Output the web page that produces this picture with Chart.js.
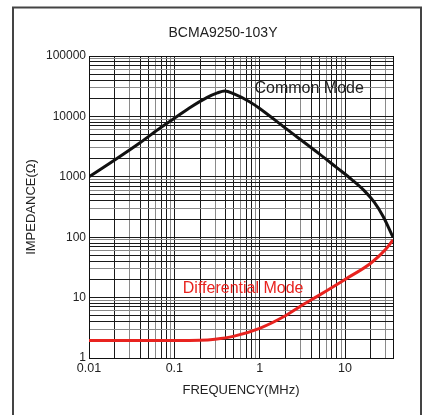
<!DOCTYPE html>
<html>
<head>
<meta charset="utf-8">
<script src="https://cdn.jsdelivr.net/npm/chart.js@4"></script>
<style>
  html, body { margin: 0; padding: 0; background: #fff; }
  #wrap { width: 425px; height: 415px; }
</style>
</head>
<body>
<div id="wrap"><canvas id="impedanceChart" width="425" height="415"></canvas></div>
<script>
const chartTitle = 'BCMA9250-103Y';

// common mode impedance
const commonFreq = [0.01, 0.02, 0.04, 0.07, 0.1, 0.15, 0.24, 0.32, 0.39, 0.5, 0.77, 1, 2, 5, 8, 12, 17, 22, 28, 36.5];
const commonImp = [1000, 1900, 3700, 6600, 9300, 13800, 20500, 24500, 26300, 23500, 17300, 13500, 6400, 2400, 1420, 900, 580, 380, 220, 100];

// differential mode impedance
const diffFreq = [0.01, 0.1, 0.2, 0.3, 0.49, 1, 2, 3, 5, 10, 20, 30, 36.5];
const diffImp = [1.95, 1.95, 1.97, 2.05, 2.28, 3.1, 5, 7.2, 11, 20, 37, 63, 90];

const xTickValues = [0.01, 0.1, 1, 10];
const xTickLabels = ['0.01', '0.1', '1', '10'];
const yTickValues = [1, 10, 100, 1000, 10000, 100000];
const yTickLabels = ['1', '10', '100', '1000', '10000', '100000'];

const seriesLabels = ['Common Mode', 'Differential Mode'];
const seriesColors = ['#111111', '#e8231f'];
const labelFreq = [3.8, 0.64];
const labelImp = [28400, 14];

const xMin = 0.01, xMax = 36.5;
const yMin = 1, yMax = 100000;

const FONT = '"Liberation Sans", Arial, sans-serif';

function logGrid(min, max) {
  const out = [];
  const e0 = Math.floor(Math.log10(min) + 1e-9);
  const e1 = Math.ceil(Math.log10(max) - 1e-9);
  for (let e = e0; e <= e1; e++) {
    for (let d = 1; d <= 9; d++) {
      const v = parseFloat((d * Math.pow(10, e)).toPrecision(6));
      if (v >= min && v <= max) out.push(v);
    }
  }
  if (out[out.length - 1] < max) out.push(max);
  return out;
}

function gridColor(value, max) {
  if (value === max) return '#111';
  const e = Math.floor(Math.log10(value) + 1e-9);
  const d = Math.round(value / Math.pow(10, e));
  return (d === 3 || d === 6 || d === 9) ? '#8a8a8a' : '#1a1a1a';
}

function pickLabel(values, labels) {
  return (v) => {
    const i = values.findIndex(t => Math.abs(t - v) / t < 1e-6);
    return i >= 0 ? labels[i] : '';
  };
}

const decorations = {
  id: 'decorations',
  beforeDraw(chart) {
    const ctx = chart.ctx;
    ctx.save();
    ctx.fillStyle = '#fff';
    ctx.fillRect(0, 0, chart.width, chart.height);
    ctx.restore();
  },
  afterDatasetsDraw(chart) {
    const ctx = chart.ctx;
    const xs = chart.scales.x, ys = chart.scales.y;
    ctx.save();
    ctx.font = '16px ' + FONT;
    ctx.textAlign = 'center';
    ctx.textBaseline = 'middle';
    seriesLabels.forEach((txt, i) => {
      ctx.fillStyle = i === 0 ? '#222' : seriesColors[1];
      ctx.fillText(txt, xs.getPixelForValue(labelFreq[i]), ys.getPixelForValue(labelImp[i]));
    });
    ctx.restore();
  },
  afterDraw(chart) {
    const ctx = chart.ctx;
    ctx.save();
    ctx.strokeStyle = '#444';
    ctx.lineWidth = 2;
    ctx.strokeRect(13, 7.5, 408, 450);
    ctx.fillStyle = '#222';
    ctx.font = '14px ' + FONT;
    ctx.textAlign = 'center';
    ctx.textBaseline = 'middle';
    ctx.fillText(chartTitle, 223, 33);
    ctx.restore();
  }
};

const xGrid = logGrid(xMin, xMax);
const yGrid = logGrid(yMin, yMax);

new Chart(document.getElementById('impedanceChart'), {
  type: 'line',
  data: {
    datasets: [
      {
        label: seriesLabels[0],
        data: commonFreq.map((f, i) => ({ x: f, y: commonImp[i] })),
        borderColor: seriesColors[0],
        borderWidth: 3,
        pointRadius: 0,
        cubicInterpolationMode: 'monotone'
      },
      {
        label: seriesLabels[1],
        data: diffFreq.map((f, i) => ({ x: f, y: diffImp[i] })),
        borderColor: seriesColors[1],
        borderWidth: 3,
        pointRadius: 0,
        cubicInterpolationMode: 'monotone'
      }
    ]
  },
  options: {
    responsive: false,
    animation: false,
    devicePixelRatio: 1,
    layout: { padding: { left: 0, right: 32, top: 56, bottom: 0 } },
    plugins: {
      legend: { display: false },
      title: { display: false },
      tooltip: { enabled: false }
    },
    scales: {
      x: {
        type: 'logarithmic',
        min: xMin,
        max: xMax,
        afterBuildTicks: (s) => { s.ticks = xGrid.map(v => ({ value: v })); },
        afterFit: (s) => { s.height = 57; },
        grid: {
          drawTicks: false,
          color: (c) => gridColor(c.tick ? c.tick.value : xMax, xMax),
          lineWidth: 1
        },
        border: { display: true, color: '#111', width: 1 },
        ticks: {
          autoSkip: false,
          maxRotation: 0,
          padding: 3,
          color: '#222',
          font: { family: FONT, size: 12.5 },
          callback: pickLabel(xTickValues, xTickLabels)
        },
        title: {
          display: true,
          text: 'FREQUENCY(MHz)',
          color: '#222',
          font: { family: FONT, size: 13 },
          padding: { top: 0, bottom: 17 }
        }
      },
      y: {
        type: 'logarithmic',
        min: yMin,
        max: yMax,
        afterBuildTicks: (s) => { s.ticks = yGrid.map(v => ({ value: v })); },
        afterFit: (s) => { s.width = 89; },
        grid: {
          drawTicks: false,
          color: (c) => gridColor(c.tick ? c.tick.value : yMax, yMax),
          lineWidth: 1
        },
        border: { display: true, color: '#111', width: 1 },
        ticks: {
          autoSkip: false,
          padding: 3,
          color: '#222',
          font: { family: FONT, size: 12 },
          callback: pickLabel(yTickValues, yTickLabels)
        },
        title: {
          display: true,
          text: 'IMPEDANCE(Ω)',
          color: '#222',
          font: { family: FONT, size: 13 },
          padding: { top: 24, bottom: 0 }
        }
      }
    }
  },
  plugins: [decorations]
});
</script>
</body>
</html>
